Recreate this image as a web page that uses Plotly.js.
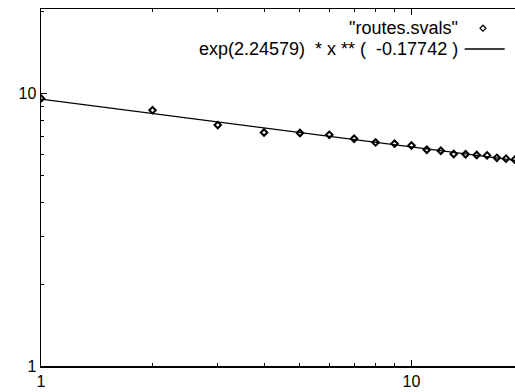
<!DOCTYPE html>
<html>
<head>
<meta charset="utf-8">
<script src="https://cdn.plot.ly/plotly-3.0.1.min.js"></script>
<style>
html,body{margin:0;padding:0;overflow:hidden;background:#fff;}
#chart{width:530px;height:392px;}
</style>
</head>
<body>
<div id="chart"></div>
<script>
// Data
var rank = [1,2,3,4,5,6,7,8,9,10,11,12,13,14,15,16,17,18,19];
var svals = [9.62,8.71,7.68,7.21,7.18,7.07,6.84,6.63,6.56,6.46,6.23,6.18,6.01,6.00,5.96,5.94,5.82,5.78,5.73];
// Fit line endpoints: exp(2.24579) * x ** (-0.17742)
var fitX = [1, 20];
var fitY = [9.57, 5.65];
var xTickVals = [1, 10];
var yTickVals = [1, 10];
var minorVals = [2,3,4,5,6,7,8,9,20];
var legendLabels = ['"routes.svals"', 'exp(2.24579)  * x ** (  -0.17742 )'];

var fam = 'Liberation Sans, Arial, sans-serif';

var traces = [
  {x: fitX, y: fitY, mode: 'lines', line: {color: '#000', width: 1.3}, showlegend: false, hoverinfo: 'skip'},
  {x: rank, y: svals, mode: 'markers', marker: {symbol: 'diamond-open', size: 5, color: '#000', line: {color: '#000', width: 2}}, showlegend: false}
];

var axisCommon = {
  type: 'log',
  showline: true, linecolor: '#000', linewidth: 1.5,
  mirror: 'ticks', ticks: 'inside', ticklen: 6, tickcolor: '#000', tickwidth: 1,
  showgrid: false, zeroline: false,
  tickmode: 'array',
  tickfont: {family: fam, color: '#000', size: 16},
  minor: {tickmode: 'array', tickvals: minorVals, ticks: 'inside', ticklen: 3, tickcolor: '#000', tickwidth: 1, showgrid: false}
};

var layout = {
  width: 530, height: 392,
  margin: {l: 41, r: 7, t: 9, b: 26},
  paper_bgcolor: '#fff', plot_bgcolor: '#fff',
  showlegend: false,
  xaxis: Object.assign({}, axisCommon, {range: [0, Math.log10(20)], tickvals: xTickVals, ticktext: ['1','10']}),
  yaxis: Object.assign({}, axisCommon, {range: [0, Math.log10(20.5)], tickvals: yTickVals, ticktext: ['1','10']}),
  annotations: [
    {xref: 'paper', yref: 'paper', x: 0.869, y: 0.9462, xanchor: 'right', yanchor: 'middle', text: legendLabels[0], showarrow: false, font: {family: fam, color: '#000', size: 18}},
    {xref: 'paper', yref: 'paper', x: 0.869, y: 0.8874, xanchor: 'right', yanchor: 'middle', text: legendLabels[1], showarrow: false, font: {family: fam, color: '#000', size: 18}}
  ],
  shapes: [
    {type: 'line', xref: 'paper', yref: 'paper', x0: 0.879, x1: 0.962, y0: 0.888, y1: 0.888, line: {color: '#000', width: 1.3}},
    {type: 'path', xref: 'paper', yref: 'paper', xsizemode: 'pixel', ysizemode: 'pixel', xanchor: 0.917, yanchor: 0.9462,
     path: 'M0,3 L3,0 L0,-3 L-3,0 Z', line: {color: '#000', width: 1.2}, fillcolor: '#fff'}
  ]
};

Plotly.newPlot('chart', traces, layout, {displayModeBar: false, staticPlot: true});
</script>
</body>
</html>
